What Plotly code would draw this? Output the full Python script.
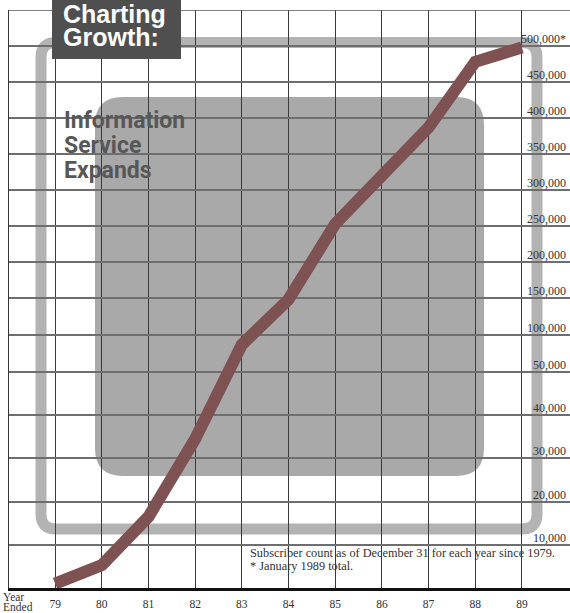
import numpy as np
import plotly.graph_objects as go

# ---------------- data ----------------
YEARS = [79, 80, 81, 82, 83, 84, 85, 86, 87, 88, 89]
SUBSCRIBERS = [1000, 5300, 16500, 34500, 87000, 148000, 253000, 321000, 387000, 478000, 498000]
TICK_VALUES = [0, 10000, 20000, 30000, 40000, 50000, 100000, 150000, 200000,
               250000, 300000, 350000, 400000, 450000, 500000]
TICK_LABELS = ["", "10,000", "20,000", "30,000", "40,000", "50,000", "100,000", "150,000",
               "200,000", "250,000", "300,000", "350,000", "400,000", "450,000", "500,000*"]
X_LABELS = [str(y) for y in YEARS]

# ---------------- scale (piecewise, as in the original) ----------------
BAND_HEIGHTS = [43.2] * 5 + [37, 37] + [36] * 7
TICK_POS = np.concatenate([[0], np.cumsum(BAND_HEIGHTS)])
Y_TOP = 578


def yscale(v):
    return np.interp(v, TICK_VALUES, TICK_POS)


# ---------------- page geometry ----------------
W, H = 570, 613
ML, MR, MT, MB = 8, 0, 10, 25
PW, PH = W - ML - MR, H - MT - MB


def px(x, y):
    return (x - ML) / PW, (H - MB - y) / PH


def rrect_path(x0, y0, x1, y1, r):
    def P(x, y):
        a, b = px(x, y)
        return f"{a:.5f},{b:.5f}"
    s = f"M {P(x0 + r, y0)} L {P(x1 - r, y0)} Q {P(x1, y0)} {P(x1, y0 + r)} "
    s += f"L {P(x1, y1 - r)} Q {P(x1, y1)} {P(x1 - r, y1)} "
    s += f"L {P(x0 + r, y1)} Q {P(x0, y1)} {P(x0, y1 - r)} "
    s += f"L {P(x0, y0 + r)} Q {P(x0, y0)} {P(x0 + r, y0)} Z"
    return s


LINE_COLOR = "#7e5252"
SERIF = "Liberation Serif, Times New Roman, serif"
TXT = "#333333"

fig = go.Figure()
fig.add_trace(go.Scatter(
    x=YEARS, y=yscale(SUBSCRIBERS), mode="lines",
    line=dict(color=LINE_COLOR, width=12), hoverinfo="skip", showlegend=False,
))

shapes = [
    # light outline rounded frame
    dict(type="path", xref="paper", yref="paper", layer="below",
         path=rrect_path(41, 42.5, 537, 529, 15),
         line=dict(color="#b3b3b3", width=11), fillcolor="rgba(0,0,0,0)"),
    # inner filled rounded panel
    dict(type="path", xref="paper", yref="paper", layer="below",
         path=rrect_path(95, 97, 484, 476, 28),
         line=dict(width=0), fillcolor="#a9a9a9"),
    # top border
    dict(type="line", xref="paper", yref="y", x0=0, x1=1, y0=Y_TOP, y1=Y_TOP,
         line=dict(color="#555555", width=1.5)),
    # left border
    dict(type="line", xref="x", yref="paper", x0=78, x1=78, y0=0, y1=1,
         line=dict(color="#333333", width=1)),
]
bx0, by0 = px(52, -1)
bx1, by1 = px(181, 59)
shapes.append(dict(type="rect", xref="paper", yref="paper", layer="above",
                   x0=bx0, x1=bx1, y0=by1, y1=by0,
                   line=dict(width=0), fillcolor="#4f4f4f"))

annotations = []
# y tick labels (right, sitting above each gridline)
for v, lab in zip(TICK_VALUES, TICK_LABELS):
    if not lab:
        continue
    annotations.append(dict(
        x=1, xref="paper", y=float(yscale(v)), yref="y", text=lab, showarrow=False,
        xanchor="right", yanchor="middle", xshift=-2, yshift=7,
        font=dict(family=SERIF, size=12, color=TXT)))

# title box text
for t, yy in [("Charting", 14), ("Growth:", 37)]:
    xp, yp = px(61, yy)
    annotations.append(dict(
        x=xp, y=yp, xref="paper", yref="paper", text=f"<b>{t}</b>", showarrow=False,
        xanchor="left", yanchor="middle",
        font=dict(family="Liberation Sans, Arial, sans-serif", size=25, color="white")))

# subtitle
for t, yy in [("Information", 120), ("Service", 145), ("Expands", 170)]:
    xp, yp = px(62, yy)
    annotations.append(dict(
        x=xp, y=yp, xref="paper", yref="paper", text=f"<b>{t}</b>", showarrow=False,
        xanchor="left", yanchor="middle",
        font=dict(family="Roboto, sans-serif", size=23, color="#575757")))

# footnote
for t, yy in [("Subscriber count as of December 31 for each year since 1979.", 553),
              ("* January 1989 total.", 566)]:
    xp, yp = px(248, yy)
    annotations.append(dict(
        x=xp, y=yp, xref="paper", yref="paper", text=t, showarrow=False,
        xanchor="left", yanchor="middle",
        font=dict(family=SERIF, size=12.3, color=TXT)))

# "Year Ended"
for t, yy in [("Year", 597), ("Ended", 607)]:
    xp, yp = px(1, yy)
    annotations.append(dict(
        x=xp, y=yp, xref="paper", yref="paper", text=t, showarrow=False,
        xanchor="left", yanchor="middle",
        font=dict(family=SERIF, size=11.5, color=TXT)))

fig.update_layout(
    width=W, height=H,
    margin=dict(l=ML, r=MR, t=MT, b=MB, pad=0),
    paper_bgcolor="white", plot_bgcolor="rgba(0,0,0,0)",
    shapes=shapes, annotations=annotations, showlegend=False,
    xaxis=dict(range=[77.99, 90.03], tickvals=YEARS, ticktext=X_LABELS,
               showgrid=True, gridcolor="#3a3a3a", gridwidth=1, zeroline=False,
               showline=True, linecolor="#111111", linewidth=2.5, ticks="",
               ticklabelstandoff=3,
               tickfont=dict(family=SERIF, size=11.5, color=TXT), fixedrange=True),
    yaxis=dict(range=[0, Y_TOP], tickvals=list(TICK_POS[1:]), showticklabels=False,
               showgrid=True, gridcolor="#6e6e6e", gridwidth=1.5, zeroline=False,
               showline=False, ticks="", fixedrange=True),
)

fig.write_html("out.html")
